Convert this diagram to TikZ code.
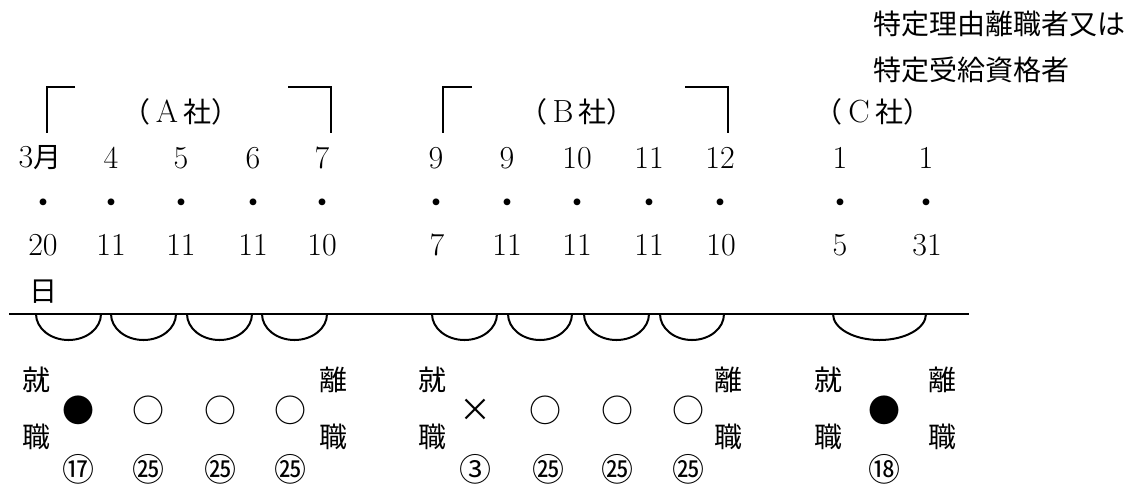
\documentclass[tikz,border=0pt]{standalone}
\usepackage{fontspec}
\newfontfamily\jp{Noto Sans CJK JP}
\begin{document}
\begin{tikzpicture}[x=0.5pt,y=-0.5pt,line width=1pt,
        every node/.style={inner sep=0pt,font=\fontsize{16}{18}\selectfont},
        jp/.style={font=\fontsize{14}{16}\selectfont\jp},
        num/.style={font=\fontsize{16}{18}\selectfont\jp}]
        \useasboundingbox (0,0) rectangle (1132,484);

        % heading
        \node[jp,anchor=west] (t1) at (872,24) {特定理由離職者又は};
        \node[jp,anchor=west] (t2) at (872,70) {特定受給資格者};
        \node (ka) at (181,112) {{\jp\fontsize{14}{16}\selectfont（}\,A\,{\jp\fontsize{14}{16}\selectfont 社）}};
        \node (kb) at (577,112) {{\jp\fontsize{14}{16}\selectfont（}\,B\,{\jp\fontsize{14}{16}\selectfont 社）}};
        \node (kc) at (873,112) {{\jp\fontsize{14}{16}\selectfont（}\,C\,{\jp\fontsize{14}{16}\selectfont 社）}};

        % brackets
        \draw (75,87) -- (47,87) -- (47,133);
        \draw (288,87) -- (331,87) -- (331,133);
        \draw (472,87) -- (443,87) -- (443,133);
        \draw (685,87) -- (728,87) -- (728,133);

        % dates, company A
        \node (ma1) at (40,158) {3{\jp\fontsize{14}{16}\selectfont 月}};
        \node (ma2) at (111,158) {4};
        \node (ma3) at (181,158) {5};
        \node (ma4) at (253,158) {6};
        \node (ma5) at (322,158) {7};
        \node[num] (pa1) at (43,207) {・};
        \node[num] (pa2) at (111,207) {・};
        \node[num] (pa3) at (181,207) {・};
        \node[num] (pa4) at (253,207) {・};
        \node[num] (pa5) at (322,207) {・};
        \node (da1) at (43,245) {20};
        \node (da2) at (111,245) {11};
        \node (da3) at (181,245) {11};
        \node (da4) at (253,245) {11};
        \node (da5) at (322,245) {10};
        \node[jp] (ha) at (43,292) {日};

        % dates, company B
        \node (mb1) at (436,158) {9};
        \node (mb2) at (507,158) {9};
        \node (mb3) at (577,158) {10};
        \node (mb4) at (649,158) {11};
        \node (mb5) at (720,158) {12};
        \node[num] (pb1) at (436,207) {・};
        \node[num] (pb2) at (507,207) {・};
        \node[num] (pb3) at (577,207) {・};
        \node[num] (pb4) at (649,207) {・};
        \node[num] (pb5) at (720,207) {・};
        \node (db1) at (437,245) {7};
        \node (db2) at (507,245) {11};
        \node (db3) at (577,245) {11};
        \node (db4) at (649,245) {11};
        \node (db5) at (721,245) {10};

        % dates, company C
        \node (mc1) at (840,158) {1};
        \node (mc2) at (926,158) {1};
        \node[num] (pc1) at (840,207) {・};
        \node[num] (pc2) at (926,207) {・};
        \node (dc1) at (840,245) {5};
        \node (dc2) at (927,245) {31};

        % time line and months
        \coordinate (l0) at (9,314);
        \coordinate (l1) at (969,314);
        \draw (l0) -- (l1);
        \draw (36,314) arc[start angle=180,end angle=0,x radius=32.5,y radius=26];
        \draw (111,314) arc[start angle=180,end angle=0,x radius=32.5,y radius=26];
        \draw (187,314) arc[start angle=180,end angle=0,x radius=32.5,y radius=26];
        \draw (262,314) arc[start angle=180,end angle=0,x radius=32.5,y radius=26];
        \draw (432,314) arc[start angle=180,end angle=0,x radius=32.5,y radius=26];
        \draw (508,314) arc[start angle=180,end angle=0,x radius=32,y radius=26];
        \draw (584,314) arc[start angle=180,end angle=0,x radius=32.5,y radius=26];
        \draw (660,314) arc[start angle=180,end angle=0,x radius=32,y radius=26];
        \draw (833,314) arc[start angle=180,end angle=0,x radius=46.5,y radius=26];

        % hire and leave
        \node[jp] (sa) at (37,380) {就};
        \node[jp] (sa') at (37,437) {職};
        \node[jp] (ea) at (333,380) {離};
        \node[jp] (ea') at (333,437) {職};
        \node[jp] (sb) at (432,380) {就};
        \node[jp] (sb') at (432,437) {職};
        \node[jp] (eb) at (728,380) {離};
        \node[jp] (eb') at (728,437) {職};
        \node[jp] (sc) at (828,380) {就};
        \node[jp] (sc') at (828,437) {職};
        \node[jp] (ec) at (942,380) {離};
        \node[jp] (ec') at (942,437) {職};

        % marks and days
        \node[num] (ga1) at (78,410) {●};
        \node[num] (ga2) at (148,410) {○};
        \node[num] (ga3) at (220,410) {○};
        \node[num] (ga4) at (290,410) {○};
        \node[num] (gb1) at (475,410) {×};
        \node[num] (gb2) at (545,410) {○};
        \node[num] (gb3) at (617,410) {○};
        \node[num] (gb4) at (688,410) {○};
        \node[num] (gc1) at (884,410) {●};
        \node[num] (na1) at (78,469) {⑰};
        \node[num] (na2) at (148,469) {㉕};
        \node[num] (na3) at (220,469) {㉕};
        \node[num] (na4) at (290,469) {㉕};
        \node[num] (nb1) at (475,469) {③};
        \node[num] (nb2) at (548,469) {㉕};
        \node[num] (nb3) at (617,469) {㉕};
        \node[num] (nb4) at (688,469) {㉕};
        \node[num] (nc1) at (884,469) {⑱};
    \end{tikzpicture}
\end{document}
